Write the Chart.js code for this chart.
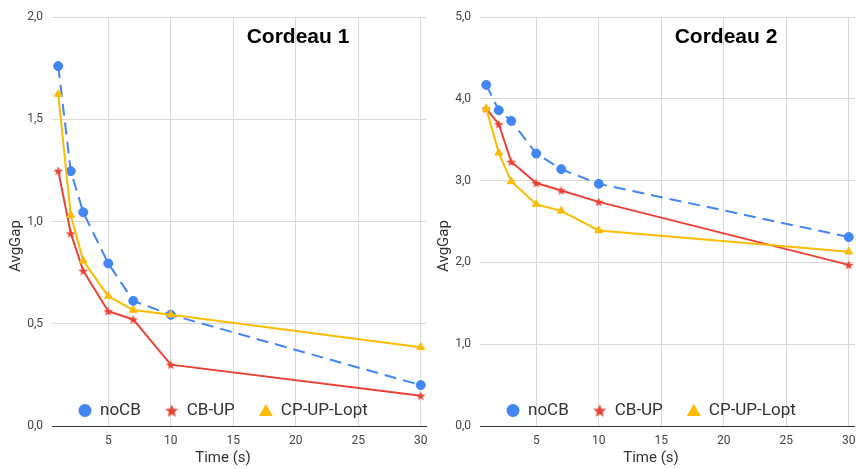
<!DOCTYPE html>
<html>
<head>
<meta charset="utf-8">
<script src="https://cdn.jsdelivr.net/npm/chart.js@4.4.1/dist/chart.umd.min.js"></script>
<style>
body { margin: 0; background: #fff; overflow: hidden; width: 856px; height: 469px; position: relative; }
.box { position: absolute; top: 0; width: 428px; height: 469px; overflow: hidden; }
</style>
</head>
<body>
<div class="box" style="left:0"><canvas id="chart1" width="434" height="469"></canvas></div>
<div class="box" style="left:428px"><canvas id="chart2" width="434" height="469"></canvas></div>
<script>
const times = [1, 2, 3, 5, 7, 10, 30];
const seriesNames = ["noCB", "CB-UP", "CP-UP-Lopt"];

const cordeau1NoCB = [1.76, 1.246, 1.045, 0.795, 0.612, 0.544, 0.2];
const cordeau1CbUp = [1.248, 0.942, 0.759, 0.561, 0.521, 0.3, 0.148];
const cordeau1CpUpLopt = [1.623, 1.031, 0.808, 0.635, 0.567, 0.544, 0.385];

const cordeau2NoCB = [4.17, 3.86, 3.73, 3.33, 3.14, 2.96, 2.31];
const cordeau2CbUp = [3.88, 3.69, 3.23, 2.97, 2.88, 2.74, 1.97];
const cordeau2CpUpLopt = [3.88, 3.34, 2.99, 2.71, 2.63, 2.39, 2.13];

const xTicks = [5, 10, 15, 20, 25, 30];
const yTicks1 = [0, 0.5, 1, 1.5, 2];
const yTicks2 = [0, 1, 2, 3, 4, 5];

const BLUE = "#4285F4";
const RED = "#EA4335";
const YELLOW = "#FBBC04";

// filled five point star, used as point style
function makeStar(size, color) {
    const c = document.createElement("canvas");
    c.width = size;
    c.height = size;
    const g = c.getContext("2d");
    const cx = size / 2, cy = size / 2 + size * 0.05;
    g.fillStyle = color;
    g.beginPath();
    for (let i = 0; i < 10; i++) {
        const r = i % 2 ? size * 0.21 : size / 2;
        const a = -Math.PI / 2 + i * Math.PI / 5;
        const px = cx + r * Math.cos(a), py = cy + r * Math.sin(a);
        if (i === 0) g.moveTo(px, py); else g.lineTo(px, py);
    }
    g.closePath();
    g.fill();
    return c;
}

const starPoint = makeStar(10, RED);
const starLegend = makeStar(14, RED);

function toPoints(values) {
    return times.map((t, i) => ({ x: t, y: values[i] }));
}

const overlay = {
    id: "overlay",
    afterDraw(chart, args, opts) {
        const ctx = chart.ctx;
        ctx.save();
        ctx.fillStyle = "#000";
        ctx.font = 'bold 21px "Liberation Sans", Arial, sans-serif';
        ctx.textAlign = "center";
        ctx.textBaseline = "alphabetic";
        ctx.fillText(opts.title, 298, 42.5);

        ctx.fillStyle = "#333";
        ctx.font = "15px Roboto, sans-serif";
        ctx.textBaseline = "middle";
        ctx.fillText("Time (s)", 223, 458);
        ctx.save();
        ctx.translate(16.5, 246);
        ctx.rotate(-Math.PI / 2);
        ctx.fillText("AvgGap", 0, 0);
        ctx.restore();

        // legend inside the plot
        ctx.font = "17px Roboto, sans-serif";
        ctx.textAlign = "left";
        const y = 410.5;
        let x = chart.chartArea.left + 33;
        seriesNames.forEach((name, i) => {
            if (i === 0) {
                ctx.fillStyle = BLUE;
                ctx.beginPath();
                ctx.arc(x, y, 6.5, 0, Math.PI * 2);
                ctx.fill();
            } else if (i === 1) {
                ctx.drawImage(starLegend, x - 7, y - 7);
            } else {
                ctx.fillStyle = YELLOW;
                ctx.beginPath();
                ctx.moveTo(x, y - 6.5);
                ctx.lineTo(x + 7, y + 5.5);
                ctx.lineTo(x - 7, y + 5.5);
                ctx.closePath();
                ctx.fill();
            }
            ctx.fillStyle = "#333";
            ctx.fillText(name, x + 15, y);
            x += 15 + ctx.measureText(name).width + 31;
        });
        ctx.restore();
    }
};

function makeChart(id, title, noCB, cbUp, cpUpLopt, yMax, yTicks) {
    const tickFont = { family: "Roboto", size: 12 };
    return new Chart(document.getElementById(id), {
        type: "line",
        data: {
            datasets: [
                {
                    label: seriesNames[0],
                    data: toPoints(noCB),
                    borderColor: BLUE,
                    backgroundColor: BLUE,
                    borderWidth: 2,
                    borderDash: [12, 7],
                    pointStyle: "circle",
                    pointRadius: 4.5,
                    pointBorderWidth: 1,
                    order: 3
                },
                {
                    label: seriesNames[1],
                    data: toPoints(cbUp),
                    borderColor: RED,
                    backgroundColor: RED,
                    borderWidth: 2,
                    pointStyle: starPoint,
                    pointRadius: 5,
                    order: 2
                },
                {
                    label: seriesNames[2],
                    data: toPoints(cpUpLopt),
                    borderColor: YELLOW,
                    backgroundColor: YELLOW,
                    borderWidth: 2,
                    pointStyle: "triangle",
                    pointRadius: 4.5,
                    pointBorderWidth: 1,
                    order: 1
                }
            ]
        },
        options: {
            responsive: false,
            animation: false,
            layout: { padding: { top: 17, right: 0, left: 0, bottom: 0 } },
            elements: { line: { tension: 0 } },
            scales: {
                x: {
                    type: "linear",
                    min: 0.5,
                    max: 30.5,
                    afterBuildTicks: s => { s.ticks = xTicks.map(v => ({ value: v })); },
                    afterFit: s => { s.height = 43; s.paddingLeft = 0; s.paddingRight = 0; },
                    grid: { color: "#d9d9d9", drawTicks: false },
                    border: { display: false },
                    ticks: { padding: 8, color: "#444", font: tickFont, maxRotation: 0, autoSkip: false }
                },
                y: {
                    min: 0,
                    max: yMax,
                    afterBuildTicks: s => { s.ticks = yTicks.map(v => ({ value: v })); },
                    afterFit: s => { s.width = 52; s.paddingTop = 0; s.paddingBottom = 0; },
                    grid: {
                        color: c => (c.tick && c.tick.value === 0 ? "#333" : "#d9d9d9"),
                        drawTicks: false
                    },
                    border: { display: false },
                    ticks: {
                        padding: 9,
                        color: "#444",
                        font: tickFont,
                        callback: v => v.toFixed(1).replace(".", ",")
                    }
                }
            },
            plugins: {
                legend: { display: false },
                tooltip: { enabled: false },
                overlay: { title: title }
            }
        },
        plugins: [overlay]
    });
}

makeChart("chart1", "Cordeau 1", cordeau1NoCB, cordeau1CbUp, cordeau1CpUpLopt, 2, yTicks1);
makeChart("chart2", "Cordeau 2", cordeau2NoCB, cordeau2CbUp, cordeau2CpUpLopt, 5, yTicks2);
</script>
</body>
</html>
